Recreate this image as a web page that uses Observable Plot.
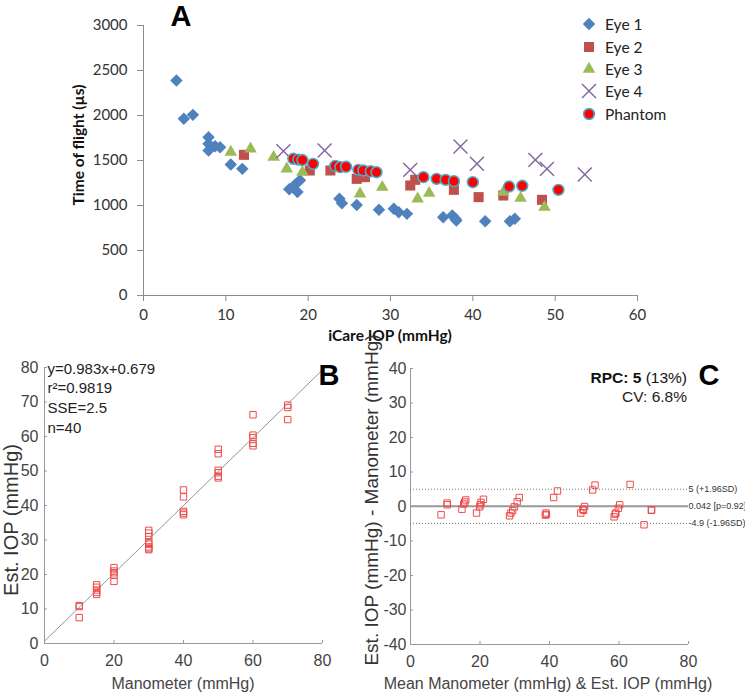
<!DOCTYPE html>
<html><head><meta charset="utf-8">
<script src="https://cdn.jsdelivr.net/npm/d3@7"></script>
<script src="https://cdn.jsdelivr.net/npm/@observablehq/plot@0.6"></script>
<style>
body{margin:0;background:#fff;}
#wrap{position:relative;width:745px;height:693px;overflow:hidden;background:#fff;}
.abs{position:absolute;white-space:nowrap;line-height:1;}
.c{transform:translate(-50%,-50%);}
.rot{transform:translate(-50%,-50%) rotate(-90deg);}
.svgbox{position:absolute;}
</style></head><body><div id="wrap"></div>
<script>
// ---------- Panel A data: [iCare IOP (mmHg), Time of flight (µs)] ----------
const eye1 = [[4.0,2389],[4.9,1963],[6.0,2007],[7.9,1759],[7.9,1685],[7.9,1611],[8.7,1659],[9.3,1648],[10.6,1456],[12.0,1407],[17.7,1180],[18.4,1230],[18.7,1150],[19.0,1280],[23.8,1074],[24.1,1026],[25.9,1005],[28.6,952],[30.4,963],[31.0,926],[32.0,907],[36.4,870],[37.5,889],[37.9,852],[38.0,833],[41.5,826],[44.5,826],[45.1,852]];
const eye2 = [[12.2,1563],[20.2,1389],[22.7,1389],[25.9,1296],[26.9,1315],[32.4,1222],[33.0,1285],[37.7,1174],[40.7,1093],[43.7,1111],[48.4,1063]];
const eye3 = [[10.6,1593],[13.0,1630],[15.8,1537],[17.4,1407],[19.3,1370],[26.3,1130],[29.0,1204],[33.3,1074],[34.7,1137],[43.7,1148],[45.8,1081],[48.7,981]];
const eye4 = [[17.0,1604],[22.0,1611],[32.4,1396],[38.5,1656],[40.5,1463],[47.6,1507],[49.0,1407],[53.6,1344]];
const phantom = [[18.2,1519],[18.8,1510],[19.3,1505],[20.6,1463],[23.3,1440],[23.9,1426],[24.6,1430],[26.1,1396],[26.7,1389],[27.6,1380],[28.3,1370],[34.0,1315],[35.6,1296],[36.7,1285],[37.7,1270],[40.0,1259],[44.4,1211],[46.0,1219],[50.4,1174]];
const aXTicks = [0,10,20,30,40,50,60];
const aYTicks = [0,500,1000,1500,2000,2500,3000];
const seriesNames = ["Eye 1","Eye 2","Eye 3","Eye 4","Phantom"];

// ---------- Panel B data ----------
const bManometer = [10,10,10,15,15,15,15,15,20,20,20,20,20,30,30,30,30,30,30,30,30,40,40,40,40,40,50,50,50,50,50,50,60,60,60,60,60,70,70,70];
const bEstIOP = [11,10.7,7.5,17,16.3,15.5,14.8,14.2,22,21,20.5,19.8,18,32.8,32,31,29.5,28.8,28,27.5,27.2,44.5,42.5,38.3,37.8,37.3,56.3,55,50.2,49.5,48.5,48,66.3,60.4,59.7,58,57.3,69.1,68.4,64.9];
const bFit = {slope:0.983, intercept:0.679};
const bStats = ["y=0.983x+0.679","r²=0.9819","SSE=2.5","n=40"];
const bTicks = [0,10,20,30,40,50,60,70,80];
const bXTicks = [0,20,40,60,80];

// ---------- Panel C data ----------
const cMean = [8.8,10.5,10.6,14.8,15.3,15.6,15.9,19.0,19.9,20.1,20.3,21.0,28.5,28.9,29.4,29.9,30.7,31.3,38.8,39.0,39.1,41.2,42.3,49.0,49.6,49.8,50.1,52.4,53.1,58.6,58.9,59.1,59.8,60.2,63.2,67.2,69.3,69.4];
const cDiff = [-2.4,1.0,0.5,-0.8,0.7,1.3,1.9,-1.9,-0.1,0.5,1.2,2.1,-2.7,-1.9,-1.2,-0.1,1.4,2.6,-2.5,-1.9,-2.3,2.6,4.5,-1.9,-0.8,-1.1,0,4.8,6.2,-3.0,-2.2,-1.9,-0.5,0.5,6.4,-5.3,-1.1,-1.0];
const cLines = [{v:5,label:"5 (+1.96SD)",dash:true},{v:0.042,label:"0.042 [p=0.92]",dash:false},{v:-4.9,label:"-4.9 (-1.96SD)",dash:true}];
const cYTicks = [-40,-30,-20,-10,0,10,20,30,40];
const cXTicks = [0,20,40,60,80];

const wrap = document.getElementById("wrap");
function addSvg(el, left, top){ const d=document.createElement("div"); d.className="svgbox"; d.style.left=left+"px"; d.style.top=top+"px"; d.appendChild(el); wrap.appendChild(d); }
function addText(html, left, top, css, cls){ const d=document.createElement("div"); d.className="abs "+(cls||"c"); d.style.left=left+"px"; d.style.top=top+"px"; d.style.cssText+=css; d.innerHTML=html; wrap.appendChild(d); }
const plain = d=>String(d);

// ---------- Panel A ----------
const sym = {
  e1:{symbol:"diamond2", fill:"#4F81BD", r:5.6},
  e2:{symbol:"square2", fill:"#C0504D", r:6.4},
  e3:{symbol:"triangle2", fill:"#9BBB59", r:6.0},
  e4:{symbol:"times", stroke:"#8064A2", r:6.4, strokeWidth:1.4},
  ph:{symbol:"circle", fill:"#FF0000", stroke:"#4BACC6", strokeWidth:1.6, r:5.4}
};
const px = d=>d[0], py = d=>d[1];
const plotA = Plot.plot({
  width:745, height:345, marginTop:25, marginBottom:50, marginLeft:143, marginRight:108,
  x:{domain:[0,60]}, y:{domain:[0,3000]},
  style:{fontFamily:"Lato, 'Open Sans', sans-serif", fontSize:"15px", color:"#333", background:"transparent"},
  marks:[
    Plot.axisY({ticks:aYTicks, tickFormat:plain, tickSize:6, tickPadding:10, label:null, stroke:"#8c8c8c", fontSize:15}),
    Plot.axisX({ticks:aXTicks, tickFormat:plain, tickSize:6, tickPadding:8, label:null, stroke:"#8c8c8c", fontSize:15}),
    Plot.ruleX([0], {stroke:"#8c8c8c"}),
    Plot.ruleY([0], {stroke:"#8c8c8c"}),
    Plot.dot(eye1, {x:px, y:py, ...sym.e1}),
    Plot.dot(eye2, {x:px, y:py, ...sym.e2}),
    Plot.dot(eye3, {x:px, y:py, ...sym.e3}),
    Plot.dot(eye4, {x:px, y:py, ...sym.e4}),
    Plot.dot(phantom, {x:px, y:py, ...sym.ph})
  ]
});
addSvg(plotA, 0, 0);
addText("Time of flight (µs)", 78, 145, "font:bold 15.5px Lato, sans-serif;color:#111;", "rot");
addText("iCare IOP (mmHg)", 390, 335, "font:bold 15.5px Lato, sans-serif;color:#111;");
addText("A", 181, 16, "font:bold 29px 'Liberation Sans', Arial, sans-serif;color:#000;");

// legend
const symTypes = [d3.symbolDiamond2, d3.symbolSquare2, d3.symbolTriangle2, d3.symbolTimes, d3.symbolCircle];
const symKeys = ["e1","e2","e3","e4","ph"];
seriesNames.forEach((name,i)=>{
  const s = sym[symKeys[i]];
  const path = d3.symbol().type(symTypes[i]).size(Math.PI*s.r*s.r)();
  const y = 23 + i*22.3;
  const d = document.createElement("div");
  d.className="abs"; d.style.left="581px"; d.style.top=(y-8)+"px";
  d.innerHTML = `<svg width="16" height="16" style="vertical-align:middle;overflow:visible"><path transform="translate(8,8)" d="${path}" fill="${s.fill||'none'}" stroke="${s.stroke||'none'}" stroke-width="${s.strokeWidth||0}"/></svg><span style="font:15.5px Lato, sans-serif;color:#222;margin-left:8px;vertical-align:middle">${name}</span>`;
  wrap.appendChild(d);
});

// ---------- Panel B ----------
const bData = bManometer.map((m,i)=>({m, e:bEstIOP[i]}));
const fitLine = [0,80].map(x=>({x, y:bFit.slope*x+bFit.intercept}));
const axisCol = "#9a9a9a";
const plotB = Plot.plot({
  width:370, height:343, marginTop:17, marginBottom:50, marginLeft:44, marginRight:48,
  x:{domain:[0,80]}, y:{domain:[0,80]},
  style:{fontFamily:"'Liberation Sans', Arial, sans-serif", fontSize:"16px", color:"#444", background:"transparent", overflow:"visible"},
  marks:[
    Plot.axisY({ticks:bTicks, tickFormat:plain, tickSize:-3, tickPadding:9, label:null, stroke:axisCol, fontSize:16}),
    Plot.axisX({ticks:bXTicks, tickFormat:plain, tickSize:-3, tickPadding:14, label:null, stroke:axisCol, fontSize:16}),
    Plot.ruleX([0], {stroke:axisCol}),
    Plot.ruleY([0], {stroke:axisCol}),
    Plot.line(fitLine, {x:"x", y:"y", stroke:"#888", strokeWidth:0.9}),
    Plot.dot(bData, {x:"m", y:"e", symbol:"square", stroke:"#ee4b4b", fill:"none", r:3.6, strokeWidth:1}),
    Plot.text([bStats.join("\n")], {text:d=>d, frameAnchor:"top-left", textAnchor:"start", lineAnchor:"top", dx:3, dy:-8, lineHeight:1.32, fontSize:15, fill:"#222"})
  ]
});
addSvg(plotB, 0, 350);
addText("Est. IOP (mmHg)", 11, 520, "font:20px 'Liberation Sans', Arial, sans-serif;color:#333;", "rot");
addText("Manometer (mmHg)", 183, 684, "font:16px 'Liberation Sans', Arial, sans-serif;color:#444;");
addText("B", 329, 375, "font:bold 29px 'Liberation Sans', Arial, sans-serif;color:#000;");

// ---------- Panel C ----------
const cData = cMean.map((m,i)=>({m, d:cDiff[i]}));
const plotC = Plot.plot({
  width:375, height:343, marginTop:18, marginBottom:49, marginLeft:40, marginRight:57,
  x:{domain:[0,80]}, y:{domain:[-40,40]},
  style:{fontFamily:"'Liberation Sans', Arial, sans-serif", fontSize:"16px", color:"#444", background:"transparent", overflow:"visible"},
  marks:[
    Plot.axisY({ticks:cYTicks, tickFormat:plain, tickSize:-3, tickPadding:7, label:null, stroke:axisCol, fontSize:16}),
    Plot.axisX({ticks:cXTicks, tickFormat:plain, tickSize:-3, tickPadding:14, label:null, stroke:axisCol, fontSize:16}),
    Plot.ruleX([0], {stroke:axisCol}),
    Plot.ruleY([-40], {stroke:axisCol}),
    Plot.ruleY(cLines.filter(d=>d.dash), {y:"v", stroke:"#777", strokeDasharray:"1,2", strokeWidth:1}),
    Plot.ruleY(cLines.filter(d=>!d.dash), {y:"v", stroke:"#999", strokeWidth:2}),
    Plot.dot(cData, {x:"m", y:"d", symbol:"square", stroke:"#ee4b4b", fill:"none", r:3.6, strokeWidth:1}),
    Plot.text(cLines, {x:()=>80, y:"v", text:"label", textAnchor:"start", dx:0, fontSize:9, fill:"#333"})
  ]
});
addSvg(plotC, 370, 350);
addText("Est. IOP (mmHg) - Manometer (mmHg)", 372, 500, "font:19px 'Liberation Sans', Arial, sans-serif;color:#333;", "rot");
addText("Mean Manometer (mmHg) &amp; Est. IOP (mmHg)", 548, 684, "font:16px 'Liberation Sans', Arial, sans-serif;color:#444;");
addText("<b>RPC: 5</b> (13%)", 687, 378, "font:15.5px 'Liberation Sans', Arial, sans-serif;color:#111;transform:translate(-100%,-50%);");
addText("CV: 6.8%", 687, 397, "font:15.5px 'Liberation Sans', Arial, sans-serif;color:#222;transform:translate(-100%,-50%);");
addText("C", 709, 375, "font:bold 29px 'Liberation Sans', Arial, sans-serif;color:#000;");
</script></body></html>
